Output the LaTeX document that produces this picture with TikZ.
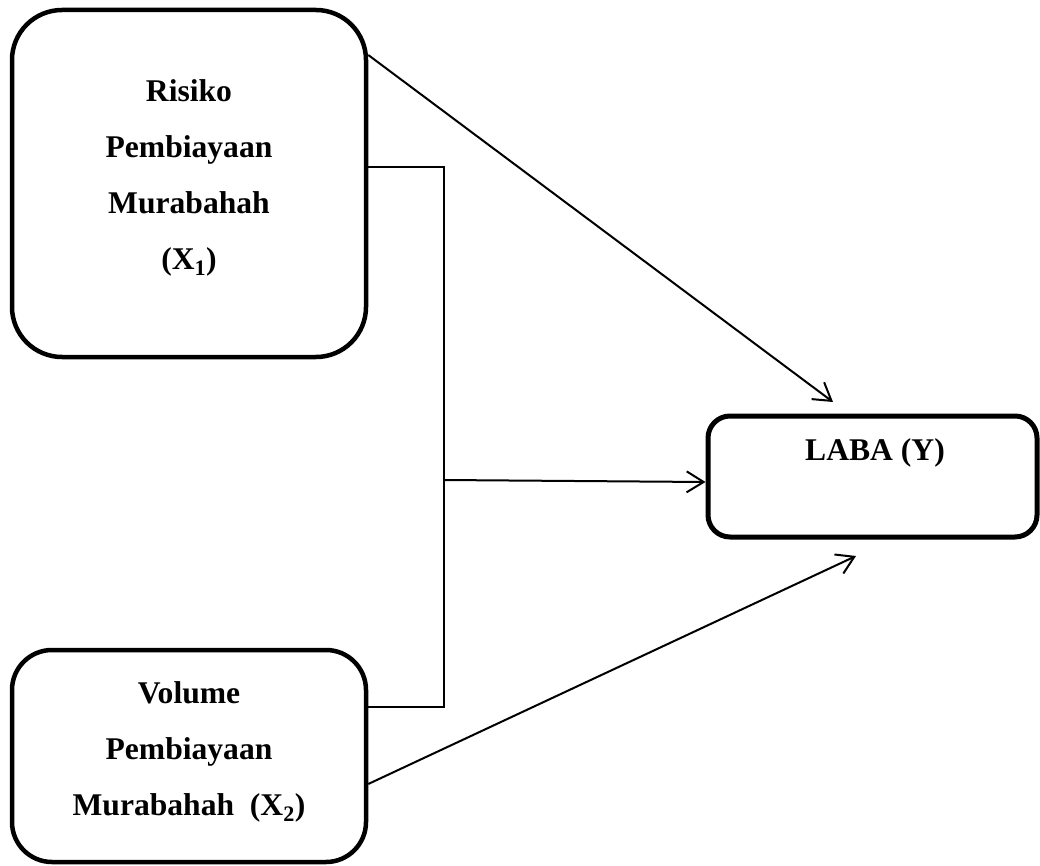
\documentclass[tikz,border=0pt]{standalone}
\usepackage{fontspec}
\setmainfont{Liberation Serif}
\usetikzlibrary{arrows.meta,calc}
\begin{document}
\begin{tikzpicture}[x=1pt,y=-1pt,
  box/.style={draw=black, line width=4.5pt, fill=none, inner sep=0pt},
  lbl/.style={font=\fontsize{31.6}{56}\selectfont\bfseries, align=center, inner sep=0pt},
  conn/.style={draw=black, line width=2pt},
  arr/.style={conn, -{Straight Barb[length=17pt,width=21pt,line width=2pt]}}]
\useasboundingbox (0,0) rectangle (1040,866);
% boxes
\node[box, rounded corners=50pt, minimum width=354pt, minimum height=347pt] (x1) at (189,183.5) {};
\node[box, rounded corners=40pt, minimum width=354pt, minimum height=212pt] (x2) at (189,756) {};
\node[box, line width=5pt, rounded corners=22pt, minimum width=329pt, minimum height=121pt] (y) at (872.5,476.5) {};
% labels
\node[lbl] (x1t) at (189,178) {Risiko\\Pembiayaan\\Murabahah\\(X\textsubscript{1})};
\node[lbl] (x2t) at (189,752) {Volume\\Pembiayaan\\Murabahah~ (X\textsubscript{2})};
\node[lbl] (yt) at (875,453) {LABA (Y)};
% junction coordinates
\coordinate (j1) at (444,167);
\coordinate (j2) at (444,707);
\coordinate (j3) at (444,480);
\coordinate (t1) at (833,402);
\coordinate (t2) at (856,556);
% connectors
\draw[arr] (x1.east |- 0,55) -- (t1);
\draw[conn] (x1.east |- j1) -- (j1) -- (j2) -- (x2.east |- j2);
\draw[arr] (j3) -- (y.west |- 0,482);
\draw[arr] (x2.east |- 0,784) -- (t2);
\end{tikzpicture}
\end{document}
